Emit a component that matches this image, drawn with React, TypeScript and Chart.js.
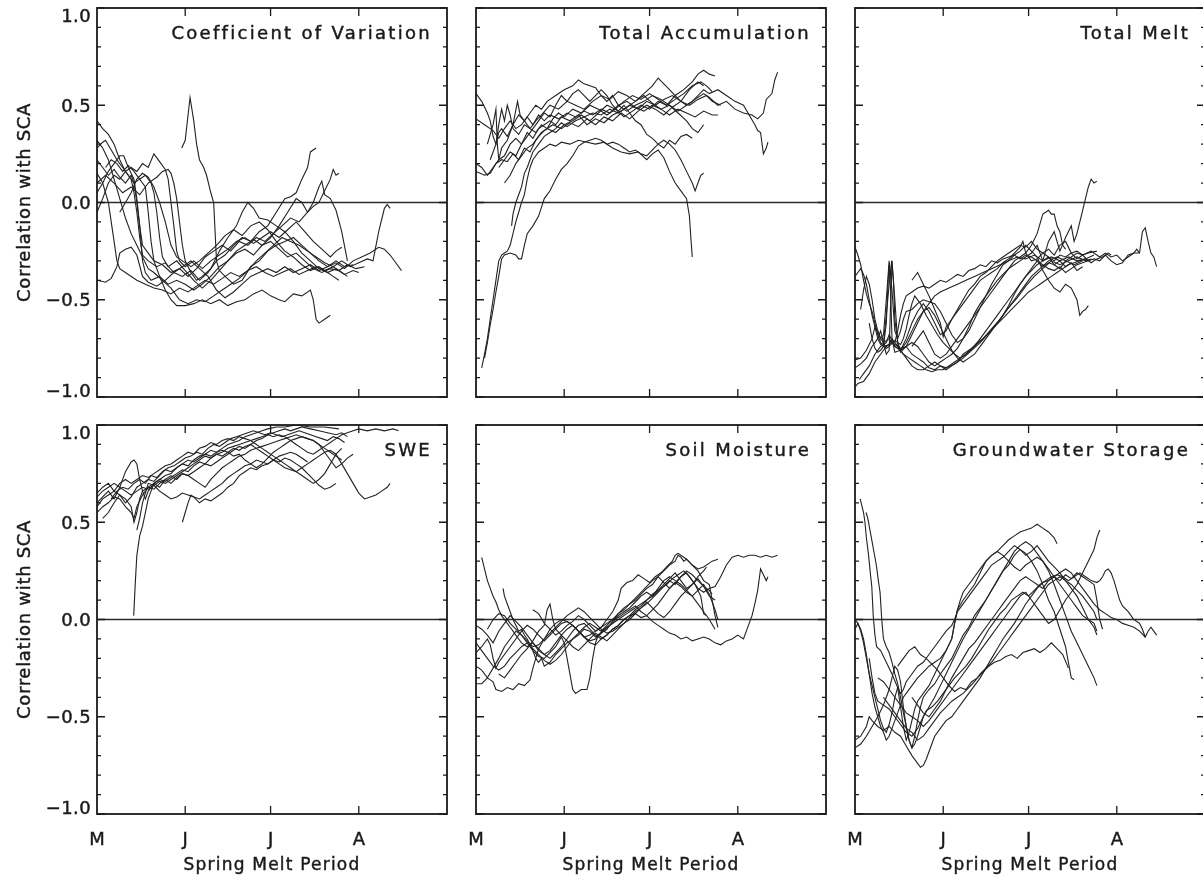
import React, { useEffect, useRef } from "react";
import { Chart, registerables } from "chart.js";
Chart.register(...registerables);

// ---------- axes / labels ----------
const monthDays = [0, 31, 61, 92];
const monthLabels = ["M", "J", "J", "A"];
const dayMax = 123;
const yMajor = [1, 0.5, 0, -0.5, -1];
const yMajorLabels = ["1.0", "0.5", "0.0", "\u22120.5", "\u22121.0"];
const yMinor = [0.9, 0.8, 0.7, 0.6, 0.4, 0.3, 0.2, 0.1, -0.1, -0.2, -0.3, -0.4, -0.6, -0.7, -0.8, -0.9];
const panelTitles = ["Coefficient of Variation", "Total Accumulation", "Total Melt", "SWE", "Soil Moisture", "Groundwater Storage"];
const yAxisTitle = "Correlation with SCA";
const xAxisTitle = "Spring Melt Period";

// ---------- Coefficient of Variation ----------
const cv01 = [[0,0.42],[2,0.38],[4,0.35],[6,0.30],[8,0.22],[10,0.16],[12,0.12],[13,0.05],[14,-0.05],[15,-0.18],[16,-0.27],[18,-0.30],[21,-0.33],[24,-0.31],[27,-0.36],[30,-0.38],[33,-0.35],[36,-0.40],[39,-0.36],[42,-0.30],[45,-0.27],[48,-0.22],[51,-0.18],[54,-0.20],[57,-0.15],[60,-0.12],[63,-0.05],[66,0.02],[68,0.03],[70,0.05],[72,0.12],[74,0.18],[75,0.26],[77,0.28]];
const cv02 = [[29.8,0.28],[31,0.32],[32.7,0.54],[34,0.42],[35,0.30],[36,0.22],[37.5,0.18],[38.5,0.14],[40,0.05],[41,0.0],[41.5,-0.15],[42,-0.30],[43,-0.35],[45,-0.38],[48,-0.42],[51,-0.40],[54,-0.33],[57,-0.30],[60,-0.25],[63,-0.22],[66,-0.20],[69,-0.18],[72,-0.22],[75,-0.26],[78,-0.30],[81,-0.33],[84,-0.30],[87,-0.33],[90,-0.32]];
const cv03 = [[0,-0.40],[3,-0.41],[5,-0.39],[7,-0.33],[8,-0.26],[10,-0.24],[12,-0.23],[14,-0.27],[16,-0.38],[18,-0.41],[21,-0.43],[24,-0.40],[27,-0.36],[30,-0.33],[33,-0.30],[36,-0.34],[39,-0.38],[42,-0.45],[45,-0.49],[48,-0.46],[51,-0.42],[54,-0.38],[57,-0.36],[60,-0.34],[63,-0.36],[66,-0.33],[69,-0.36],[72,-0.34],[75,-0.32],[78,-0.35],[81,-0.33],[84,-0.31],[87,-0.34],[90,-0.30],[93,-0.28],[96,-0.26],[99,-0.23],[101,-0.24],[103,-0.27],[105,-0.31],[107,-0.35]];
const cv04 = [[0,0.15],[2,0.10],[4,0.0],[5,-0.10],[6,-0.20],[7,-0.30],[8,-0.34],[11,-0.37],[14,-0.40],[17,-0.42],[20,-0.44],[23,-0.45],[26,-0.47],[29,-0.44],[32,-0.46],[35,-0.43],[38,-0.40],[41,-0.42],[44,-0.39],[47,-0.36],[50,-0.38],[53,-0.35],[56,-0.33],[59,-0.36],[62,-0.38],[65,-0.36],[68,-0.34],[71,-0.37],[74,-0.35],[77,-0.33],[80,-0.35],[83,-0.33],[86,-0.30],[89,-0.33],[92,-0.31],[95,-0.29],[97,-0.30],[99,-0.15],[101,-0.03],[102,-0.01],[103,-0.03]];
const cv05 = [[0,0.28],[2,0.31],[3,0.32],[5,0.27],[7,0.22],[9,0.18],[11,0.14],[13,0.10],[15,0.12],[17,0.08],[18,-0.05],[19,-0.20],[20,-0.30],[22,-0.38],[24,-0.45],[26,-0.50],[28,-0.53],[31,-0.53],[34,-0.52],[37,-0.50],[40,-0.52],[43,-0.50],[46,-0.53],[49,-0.51],[52,-0.50],[55,-0.47],[58,-0.45],[61,-0.48],[64,-0.50],[66,-0.51],[69,-0.47],[72,-0.48],[75,-0.45],[76,-0.50],[77,-0.60],[78,-0.62],[80,-0.60],[82,-0.58]];
const cv06 = [[0,0.05],[2,0.10],[4,0.16],[6,0.20],[8,0.24],[9.4,0.24],[11,0.18],[13,0.12],[14,0.02],[15,-0.12],[16,-0.22],[18,-0.26],[20,-0.30],[23,-0.32],[26,-0.36],[29,-0.34],[32,-0.38],[35,-0.34],[38,-0.28],[41,-0.25],[44,-0.22],[47,-0.25],[50,-0.20],[53,-0.22],[56,-0.18],[59,-0.20],[62,-0.16],[65,-0.12],[68,-0.08],[71,-0.10],[74,-0.05],[76,-0.02],[78,0.0],[80,0.06],[82,0.12],[83,0.17],[84,0.14],[85,0.15]];
const cv07 = [[0,-0.05],[2,0.02],[4,0.10],[6,0.14],[8,0.12],[10,0.16],[12,0.18],[14,0.16],[16,0.20],[18,0.18],[20,0.25],[22,0.21],[24,0.17],[25,0.12],[26,0.0],[27,-0.12],[28,-0.25],[29,-0.30],[31,-0.33],[34,-0.30],[37,-0.34],[40,-0.30],[43,-0.27],[46,-0.24],[49,-0.20],[52,-0.18],[55,-0.21],[58,-0.18],[61,-0.15],[64,-0.18],[67,-0.14],[70,-0.10],[73,-0.15],[76,-0.20],[79,-0.24],[82,-0.28],[84,-0.25],[86,-0.23]];
const cv08 = [[0,0.10],[3,0.14],[6,0.10],[9,0.05],[12,0.08],[15,0.04],[18,0.10],[21,0.13],[23,0.16],[25,0.17],[26,0.15],[27,0.10],[28,0.02],[29,-0.10],[30,-0.22],[31,-0.30],[33,-0.36],[35,-0.40],[37,-0.38],[40,-0.34],[43,-0.25],[46,-0.18],[49,-0.12],[51,-0.05],[53,0.0],[55,-0.03],[57,-0.08],[60,-0.09],[63,-0.12],[66,-0.15],[69,-0.20],[72,-0.26],[75,-0.30],[78,-0.34],[81,-0.36],[83,-0.38],[85,-0.40]];
const cv09 = [[0,0.22],[2,0.18],[4,0.14],[6,0.17],[8,0.13],[10,0.10],[12,0.14],[13,0.10],[14,0.0],[15,-0.12],[16,-0.30],[17,-0.36],[19,-0.40],[22,-0.38],[25,-0.42],[28,-0.40],[31,-0.42],[34,-0.45],[37,-0.42],[40,-0.38],[43,-0.33],[46,-0.30],[49,-0.26],[52,-0.24],[55,-0.27],[58,-0.22],[61,-0.20],[64,-0.24],[67,-0.28],[70,-0.26],[73,-0.30],[76,-0.34],[79,-0.36],[82,-0.34],[85,-0.35],[88,-0.32],[91,-0.34],[94,-0.33]];
const cv10 = [[3,0.18],[5,0.22],[7,0.20],[9,0.16],[11,0.19],[13,0.16],[15,0.12],[17,0.14],[19,0.10],[20,0.05],[21,-0.05],[22,-0.18],[23,-0.28],[25,-0.33],[28,-0.30],[31,-0.35],[34,-0.40],[37,-0.44],[40,-0.40],[43,-0.35],[46,-0.30],[49,-0.25],[52,-0.22],[55,-0.19],[58,-0.22],[61,-0.18],[64,-0.12],[67,-0.05],[70,0.02],[72,0.0],[74,-0.05],[76,0.0],[78,0.08],[79,0.11],[80,0.04],[82,0.02],[84,-0.04],[86,-0.15],[88,-0.30]];
const cv11 = [[8,-0.05],[10,0.0],[12,0.05],[14,0.12],[16,0.15],[18,0.13],[20,0.08],[22,0.0],[24,-0.10],[26,-0.22],[28,-0.28],[30,-0.30],[33,-0.33],[36,-0.30],[39,-0.26],[42,-0.22],[45,-0.17],[48,-0.14],[51,-0.17],[54,-0.12],[57,-0.10],[60,-0.14],[63,-0.20],[66,-0.25],[69,-0.28],[72,-0.32],[75,-0.35],[78,-0.33],[81,-0.36],[84,-0.34],[87,-0.37],[90,-0.35],[92,-0.36]];
const cv12 = [[0,0.32],[2,0.28],[4,0.22],[6,0.12],[8,0.02],[10,-0.08],[12,-0.16],[14,-0.22],[16,-0.28],[18,-0.34],[20,-0.36],[23,-0.40],[26,-0.44],[29,-0.50],[32,-0.52],[35,-0.50],[38,-0.51],[41,-0.48],[44,-0.45],[47,-0.42],[50,-0.39],[53,-0.35],[56,-0.30],[59,-0.26],[62,-0.22],[65,-0.18],[68,-0.20],[71,-0.22],[74,-0.25],[77,-0.28],[80,-0.31],[83,-0.33],[86,-0.36],[88,-0.38]];
const cvSeries = [cv01, cv02, cv03, cv04, cv05, cv06, cv07, cv08, cv09, cv10, cv11, cv12];

// ---------- Total Accumulation ----------
const ta01 = [[0,0.56],[2,0.52],[4,0.46],[5,0.42],[6,0.34],[7,0.30],[8,0.36],[9,0.38],[11,0.34],[13,0.40],[15,0.45],[17,0.42],[19,0.46],[21,0.50],[23,0.48],[25,0.52],[28,0.55],[31,0.58],[34,0.60],[36,0.63],[38,0.61],[40,0.60],[42,0.59],[44,0.55],[46,0.52],[48,0.55],[50,0.50],[53,0.47],[56,0.50],[59,0.52],[62,0.55],[65,0.53],[68,0.50],[71,0.47],[74,0.50],[77,0.53],[80,0.56],[82,0.54],[85,0.50],[88,0.52],[91,0.48],[94,0.46],[97,0.45],[99,0.43],[101,0.46],[102,0.53],[104,0.56],[105,0.63],[106,0.67]];
const ta02 = [[0,0.43],[3,0.40],[6,0.37],[8,0.33],[10,0.38],[12,0.42],[14,0.38],[16,0.40],[18,0.44],[20,0.40],[22,0.45],[24,0.42],[26,0.45],[29,0.43],[32,0.46],[35,0.44],[38,0.47],[41,0.45],[44,0.48],[47,0.46],[50,0.50],[53,0.52],[56,0.49],[59,0.47],[62,0.50],[65,0.48],[68,0.45],[71,0.48],[74,0.46],[77,0.44],[80,0.47],[83,0.45],[85,0.45]];
const ta03 = [[0,0.20],[2,0.18],[4,0.14],[6,0.18],[8,0.22],[10,0.24],[12,0.30],[14,0.33],[16,0.30],[18,0.36],[20,0.33],[22,0.38],[24,0.40],[26,0.42],[28,0.40],[30,0.44],[33,0.42],[36,0.45],[39,0.40],[42,0.43],[45,0.41],[48,0.45],[51,0.47],[54,0.50],[57,0.48],[60,0.52],[63,0.50],[66,0.53],[69,0.55],[72,0.52],[75,0.58],[78,0.62],[80,0.60]];
const ta04 = [[0,0.16],[3,0.14],[5,0.15],[7,0.20],[9,0.22],[11,0.21],[13,0.25],[15,0.22],[17,0.28],[19,0.26],[21,0.32],[23,0.36],[25,0.38],[27,0.43],[29,0.46],[31,0.44],[34,0.48],[37,0.46],[40,0.50],[43,0.48],[46,0.45],[49,0.48],[52,0.44],[55,0.47],[58,0.50],[61,0.48],[64,0.52],[67,0.50],[70,0.55],[73,0.58],[76,0.62],[78,0.66],[80,0.68],[82,0.66],[84,0.65]];
const ta05 = [[2,-0.85],[3,-0.78],[4,-0.70],[5,-0.60],[6,-0.50],[7,-0.40],[8,-0.30],[9,-0.27],[10,-0.26],[11,-0.25],[12,-0.22],[13,-0.16],[14,-0.10],[15,-0.05],[16,0.0],[17,0.04],[18,0.12],[19,0.18],[20,0.22],[22,0.26],[24,0.28],[26,0.30],[28,0.29],[30,0.31],[33,0.30],[36,0.32],[39,0.31],[42,0.30],[45,0.31],[48,0.28],[51,0.26],[54,0.25],[57,0.26],[60,0.22],[62,0.25],[64,0.27],[66,0.23],[68,0.16],[70,0.10],[72,0.06],[74,0.02],[75,-0.07],[75.5,-0.18],[76,-0.28]];
const ta06 = [[3,-0.80],[4,-0.72],[5,-0.63],[6,-0.55],[7,-0.46],[8,-0.38],[9,-0.29],[10,-0.27],[12,-0.26],[14,-0.27],[15,-0.29],[16,-0.29],[17,-0.22],[18,-0.16],[20,-0.12],[22,-0.07],[24,0.02],[26,0.06],[28,0.12],[30,0.17],[32,0.20],[34,0.24],[36,0.29],[38,0.31],[40,0.32],[42,0.33],[44,0.32],[46,0.30],[48,0.31],[50,0.30],[52,0.28],[54,0.26],[56,0.27],[58,0.25],[60,0.24],[62,0.27],[64,0.30],[66,0.32],[68,0.30],[70,0.27],[72,0.22],[74,0.16],[76,0.10],[77,0.06],[78,0.10],[79,0.14],[80,0.15]];
const ta07 = [[12.5,-0.12],[13,-0.06],[14,0.0],[15,0.04],[16,0.08],[17,0.15],[18,0.18],[19,0.22],[20,0.26],[22,0.30],[24,0.34],[26,0.36],[28,0.38],[30,0.41],[32,0.39],[35,0.42],[38,0.44],[41,0.46],[44,0.45],[47,0.48],[50,0.46],[53,0.49],[56,0.52],[59,0.56],[62,0.60],[64,0.64],[66,0.61],[68,0.58],[70,0.55],[72,0.52],[74,0.50],[76,0.52],[78,0.55],[80,0.58],[82,0.56],[85,0.58],[88,0.55],[91,0.52],[94,0.50],[96,0.45],[98,0.40],[99,0.37],[100,0.36],[101,0.25],[102,0.28],[102.6,0.31]];
const ta08 = [[8,0.18],[10,0.22],[12,0.26],[14,0.24],[16,0.30],[18,0.34],[20,0.38],[22,0.42],[24,0.46],[26,0.44],[28,0.50],[30,0.55],[32,0.52],[34,0.56],[36,0.58],[38,0.55],[40,0.52],[42,0.55],[44,0.58],[46,0.55],[48,0.50],[50,0.47],[52,0.50],[54,0.46],[56,0.42],[58,0.40],[60,0.35],[62,0.33],[64,0.30],[66,0.28],[68,0.32],[70,0.30],[72,0.34],[74,0.35],[76,0.33]];
const ta09 = [[5,0.22],[7,0.30],[8,0.40],[9,0.48],[10,0.42],[11,0.50],[12,0.45],[13,0.38],[15,0.35],[17,0.40],[19,0.38],[21,0.42],[23,0.45],[26,0.50],[29,0.48],[32,0.52],[35,0.50],[38,0.48],[41,0.52],[44,0.55],[47,0.53],[50,0.57],[53,0.55],[56,0.52],[59,0.55],[62,0.51],[65,0.48],[68,0.50],[71,0.46],[74,0.42],[76,0.38],[78,0.36],[80,0.40]];
const ta10 = [[4,0.30],[6,0.40],[7,0.48],[7.5,0.30],[8,0.22],[9,0.28],[11,0.32],[13,0.40],[14.6,0.52],[15.5,0.45],[17,0.42],[19,0.38],[21,0.36],[23,0.40],[25,0.38],[28,0.36],[31,0.40],[34,0.42],[37,0.45],[40,0.42],[43,0.46],[46,0.50],[49,0.48],[52,0.52],[55,0.55],[58,0.53],[61,0.56],[64,0.53],[67,0.50],[70,0.53],[73,0.56],[76,0.60],[79,0.62],[81,0.60],[83,0.57]];
const ta11 = [[10,0.10],[12,0.14],[14,0.20],[16,0.24],[18,0.28],[20,0.30],[22,0.34],[24,0.37],[27,0.40],[30,0.38],[33,0.41],[36,0.39],[39,0.43],[42,0.40],[45,0.44],[48,0.42],[51,0.46],[54,0.43],[57,0.47],[60,0.50],[63,0.48],[66,0.45],[69,0.49],[72,0.52],[75,0.50],[78,0.53],[81,0.55],[83,0.52],[86,0.50]];
const taSeries = [ta01, ta02, ta03, ta04, ta05, ta06, ta07, ta08, ta09, ta10, ta11];

// ---------- Total Melt ----------
const tm01 = [[0,-0.23],[1,-0.27],[2,-0.32],[3,-0.40],[4,-0.47],[5,-0.52],[6,-0.56],[7,-0.62],[8,-0.68],[9,-0.72],[10,-0.74],[12,-0.73],[13,-0.70],[14,-0.72],[16,-0.75],[18,-0.74],[20,-0.68],[22,-0.62],[24,-0.56],[26,-0.52],[28,-0.48],[30,-0.46],[33,-0.44],[36,-0.42],[39,-0.40],[42,-0.38],[45,-0.36],[48,-0.34],[51,-0.32],[54,-0.30],[57,-0.28],[60,-0.29],[63,-0.27],[66,-0.30],[69,-0.28],[72,-0.30],[75,-0.28],[78,-0.30],[81,-0.29],[84,-0.27]];
const tm02 = [[0,-0.38],[1,-0.36],[2,-0.34],[3,-0.37],[4,-0.42],[5,-0.50],[6,-0.58],[7,-0.64],[8,-0.70],[9,-0.73],[10,-0.72],[11,-0.58],[12,-0.42],[12.9,-0.30],[13.5,-0.40],[14,-0.60],[15,-0.72],[16,-0.76],[18,-0.74],[20,-0.78],[22,-0.80],[24,-0.82],[26,-0.85],[28,-0.86],[30,-0.84],[32,-0.85],[35,-0.83],[38,-0.80],[41,-0.76],[44,-0.72],[47,-0.67],[50,-0.62],[53,-0.56],[56,-0.50],[59,-0.44],[62,-0.38],[65,-0.34],[68,-0.30],[71,-0.28],[74,-0.30],[77,-0.32],[80,-0.30]];
const tm03 = [[0,-0.81],[2,-0.80],[4,-0.76],[6,-0.70],[7,-0.64],[8,-0.66],[9,-0.70],[10,-0.72],[11,-0.75],[12,-0.74],[14,-0.71],[16,-0.73],[17,-0.70],[18,-0.65],[19,-0.58],[20,-0.52],[21,-0.48],[23,-0.52],[25,-0.58],[27,-0.63],[29,-0.68],[31,-0.72],[33,-0.75],[35,-0.78],[37,-0.80],[39,-0.78],[42,-0.74],[45,-0.70],[48,-0.65],[51,-0.60],[54,-0.54],[57,-0.49],[60,-0.43],[63,-0.38],[66,-0.34],[69,-0.30],[72,-0.32],[75,-0.30],[78,-0.28],[81,-0.30],[83,-0.29]];
const tm04 = [[0,-0.85],[2,-0.83],[4,-0.80],[6,-0.74],[8,-0.70],[9,-0.66],[10,-0.72],[11,-0.78],[12,-0.76],[13,-0.30],[14,-0.50],[15,-0.72],[16,-0.77],[18,-0.74],[20,-0.72],[22,-0.74],[24,-0.78],[26,-0.82],[28,-0.84],[30,-0.82],[32,-0.80],[34,-0.78],[36,-0.75],[38,-0.70],[40,-0.64],[42,-0.57],[44,-0.52],[46,-0.48],[48,-0.44],[50,-0.40],[52,-0.37],[54,-0.34],[56,-0.32],[58,-0.30],[60,-0.28],[62,-0.26],[64,-0.22],[66,-0.30],[68,-0.20],[70,-0.15],[72,-0.25],[74,-0.18],[76,-0.12],[77,-0.20],[78,-0.16],[80,-0.04],[81,0.02],[82,0.08],[83,0.12],[84,0.10],[85,0.11]];
const tm05 = [[1.5,-0.91],[3,-0.88],[5,-0.84],[7,-0.78],[9,-0.74],[11,-0.72],[12,-0.68],[14,-0.74],[16,-0.76],[18,-0.72],[20,-0.66],[22,-0.60],[24,-0.56],[26,-0.54],[28,-0.58],[30,-0.64],[32,-0.70],[34,-0.76],[36,-0.80],[38,-0.82],[40,-0.80],[42,-0.78],[44,-0.74],[46,-0.70],[48,-0.66],[50,-0.62],[52,-0.58],[54,-0.53],[56,-0.47],[58,-0.42],[60,-0.38],[62,-0.34],[64,-0.30],[66,-0.33],[68,-0.31],[70,-0.32],[72,-0.30],[74,-0.33],[76,-0.31],[78,-0.35],[80,-0.33]];
const tm06 = [[14,-0.72],[15,-0.66],[16,-0.58],[17,-0.52],[18,-0.48],[20,-0.46],[22,-0.44],[24,-0.43],[26,-0.44],[28,-0.42],[30,-0.40],[32,-0.41],[34,-0.39],[36,-0.37],[38,-0.38],[40,-0.35],[42,-0.34],[44,-0.32],[46,-0.33],[48,-0.30],[50,-0.31],[52,-0.29],[54,-0.28],[56,-0.27],[58,-0.29],[60,-0.27],[62,-0.28],[64,-0.30],[66,-0.32],[68,-0.34],[70,-0.35],[72,-0.33],[74,-0.36],[76,-0.34],[78,-0.32],[80,-0.31],[82,-0.30],[84,-0.29],[86,-0.30],[88,-0.27],[90,-0.30],[92,-0.32],[94,-0.31],[96,-0.27],[98,-0.26],[100,-0.26],[101,-0.15],[102,-0.13],[103,-0.20],[104,-0.26],[105,-0.28],[106,-0.33]];
const tm07 = [[10,-0.72],[12,-0.70],[14,-0.74],[16,-0.76],[18,-0.70],[20,-0.62],[22,-0.56],[24,-0.52],[26,-0.56],[28,-0.62],[30,-0.68],[32,-0.66],[34,-0.60],[36,-0.55],[38,-0.50],[40,-0.45],[42,-0.42],[44,-0.38],[46,-0.36],[48,-0.33],[50,-0.30],[52,-0.28],[54,-0.26],[56,-0.24],[58,-0.22],[60,-0.23],[62,-0.20],[64,-0.24],[66,-0.26],[68,-0.28],[70,-0.30],[72,-0.27],[74,-0.28],[76,-0.26],[78,-0.25],[80,-0.27],[82,-0.26],[85,-0.25]];
const tm08 = [[5,-0.62],[6,-0.70],[7,-0.75],[8,-0.77],[9,-0.76],[10,-0.74],[11,-0.62],[11.5,-0.45],[12,-0.32],[12.5,-0.45],[13,-0.70],[14,-0.77],[16,-0.76],[18,-0.80],[20,-0.84],[22,-0.86],[24,-0.86],[26,-0.84],[28,-0.82],[30,-0.84],[32,-0.86],[34,-0.84],[36,-0.82],[38,-0.78],[40,-0.76],[42,-0.74],[44,-0.70],[46,-0.66],[48,-0.62],[50,-0.58],[52,-0.54],[54,-0.50],[56,-0.46],[58,-0.42],[60,-0.38],[62,-0.35],[64,-0.32],[66,-0.30],[68,-0.28],[70,-0.32],[72,-0.34],[74,-0.30],[76,-0.28],[78,-0.26],[80,-0.27],[82,-0.30]];
const tm09 = [[20,-0.74],[22,-0.70],[24,-0.66],[26,-0.72],[28,-0.78],[30,-0.80],[32,-0.78],[34,-0.74],[36,-0.70],[38,-0.66],[40,-0.62],[42,-0.58],[44,-0.54],[46,-0.50],[48,-0.46],[50,-0.42],[52,-0.38],[54,-0.34],[56,-0.30],[58,-0.28],[60,-0.26],[62,-0.22],[64,-0.16],[66,-0.06],[67,-0.05],[68,-0.04],[69,-0.06],[70,-0.06],[71,-0.12],[72,-0.15],[73,-0.22],[74,-0.24]];
const tm10 = [[0,-0.95],[1,-0.93],[3,-0.92],[5,-0.88],[7,-0.82],[9,-0.78],[11,-0.74],[13,-0.72],[15,-0.74],[17,-0.78],[19,-0.80],[21,-0.82],[23,-0.84],[25,-0.86],[27,-0.87],[29,-0.86],[31,-0.86],[33,-0.84],[35,-0.82],[37,-0.80],[39,-0.78],[41,-0.75],[43,-0.72],[45,-0.70],[47,-0.67],[49,-0.64],[51,-0.61],[53,-0.58],[55,-0.55],[57,-0.52],[59,-0.49],[61,-0.46],[63,-0.44],[65,-0.42],[67,-0.40],[69,-0.38],[71,-0.36],[73,-0.34],[75,-0.32],[77,-0.31],[79,-0.30],[81,-0.29],[83,-0.31],[85,-0.29],[87,-0.28],[89,-0.26],[90,-0.27]];
const tm11 = [[2,-0.55],[3,-0.45],[4,-0.38],[5,-0.42],[6,-0.50],[7,-0.60],[8,-0.66],[9,-0.70],[10,-0.68],[11,-0.50],[12,-0.30],[13,-0.45],[14,-0.66],[15,-0.70],[16,-0.66],[17,-0.60],[18,-0.56],[20,-0.55],[22,-0.52],[24,-0.50],[26,-0.51],[28,-0.52],[30,-0.56],[32,-0.62],[34,-0.68],[36,-0.72],[38,-0.70],[40,-0.66],[42,-0.60],[44,-0.54],[46,-0.48],[48,-0.42],[50,-0.37],[52,-0.32],[54,-0.30],[56,-0.27],[58,-0.25],[60,-0.22],[62,-0.25],[64,-0.28],[66,-0.35],[68,-0.40],[70,-0.44],[72,-0.46],[74,-0.42],[76,-0.44],[78,-0.50],[79,-0.58],[80,-0.56],[81,-0.55],[82,-0.53]];
const tm12 = [[20,-0.40],[22,-0.36],[24,-0.42],[26,-0.48],[28,-0.55],[30,-0.62],[31,-0.69],[32,-0.64],[34,-0.60],[36,-0.56],[38,-0.52],[40,-0.48],[42,-0.44],[44,-0.40],[46,-0.38],[48,-0.36],[50,-0.34],[52,-0.31],[54,-0.29],[56,-0.26],[58,-0.23],[59,-0.20],[60,-0.26],[62,-0.30],[64,-0.29],[66,-0.26],[68,-0.24],[70,-0.27],[72,-0.22],[74,-0.20],[76,-0.26],[78,-0.29],[80,-0.27],[83,-0.25],[86,-0.28],[88,-0.26],[90,-0.28],[92,-0.27],[94,-0.30],[96,-0.28],[98,-0.26],[99,-0.24],[100,-0.26]];
const tmSeries = [tm01, tm02, tm03, tm04, tm05, tm06, tm07, tm08, tm09, tm10, tm11, tm12];

// ---------- SWE ----------
const sw01 = [[0,0.60],[2,0.63],[4,0.66],[6,0.62],[8,0.68],[10,0.76],[12,0.81],[13,0.82],[14,0.80],[15,0.72],[16,0.66],[17,0.62],[18,0.66],[20,0.70],[22,0.72],[24,0.74],[26,0.75],[28,0.78],[30,0.80],[32,0.79],[34,0.82],[36,0.84],[38,0.85],[40,0.87],[42,0.86],[44,0.88],[46,0.90],[48,0.91],[50,0.92],[52,0.94],[54,0.95],[56,0.96],[58,0.97],[60,0.98],[63,0.99],[66,0.99],[70,1.0],[75,0.99],[80,0.99],[85,0.98]];
const sw02 = [[12.9,0.02],[13.5,0.20],[14,0.33],[15,0.43],[16,0.48],[17,0.55],[18,0.62],[19,0.66],[20,0.70],[22,0.72],[24,0.71],[26,0.73],[28,0.75],[30,0.77],[32,0.76],[34,0.79],[36,0.81],[38,0.80],[40,0.83],[42,0.85],[44,0.84],[46,0.86],[48,0.88],[50,0.87],[52,0.89],[54,0.90],[56,0.88],[58,0.86],[60,0.84],[62,0.82],[64,0.80],[66,0.78],[68,0.77],[70,0.76],[72,0.78],[74,0.80],[76,0.82],[78,0.84],[80,0.86],[82,0.87],[84,0.85],[86,0.80],[88,0.75],[90,0.70],[92,0.65],[94,0.62],[96,0.63],[98,0.64],[100,0.66],[102,0.68],[103,0.70]];
const sw03 = [[30,0.50],[31,0.55],[32,0.60],[33,0.64],[34,0.63],[36,0.60],[38,0.62],[40,0.61],[42,0.63],[44,0.65],[46,0.68],[48,0.70],[50,0.74],[52,0.76],[54,0.78],[56,0.77],[58,0.79],[60,0.80],[62,0.82],[64,0.81],[66,0.83],[68,0.82],[70,0.80],[72,0.78],[74,0.75],[76,0.72],[78,0.69],[80,0.67],[82,0.68],[84,0.70]];
const sw04 = [[0,0.55],[2,0.58],[4,0.60],[6,0.63],[8,0.62],[10,0.58],[12,0.55],[13,0.52],[14,0.58],[16,0.64],[18,0.68],[20,0.67],[22,0.70],[24,0.72],[26,0.70],[28,0.73],[30,0.75],[32,0.74],[34,0.76],[36,0.78],[38,0.80],[40,0.79],[42,0.81],[44,0.83],[46,0.85],[48,0.87],[50,0.89],[52,0.88],[54,0.90],[56,0.92],[58,0.93],[60,0.95],[62,0.94],[64,0.95],[66,0.94],[68,0.92],[70,0.90],[72,0.88],[74,0.86],[76,0.85],[78,0.87],[80,0.89],[82,0.91],[84,0.93],[86,0.95],[88,0.96],[90,0.97],[92,0.98],[95,0.97],[98,0.98],[101,0.97],[104,0.98],[106,0.97]];
const sw05 = [[0,0.65],[2,0.68],[4,0.70],[6,0.66],[8,0.64],[10,0.60],[12,0.63],[14,0.68],[16,0.70],[18,0.72],[20,0.71],[22,0.74],[24,0.77],[26,0.76],[28,0.78],[30,0.80],[32,0.82],[34,0.81],[36,0.83],[38,0.85],[40,0.84],[42,0.86],[44,0.87],[46,0.86],[48,0.84],[50,0.85],[52,0.82],[54,0.80],[56,0.78],[58,0.80],[60,0.83],[62,0.86],[64,0.88],[66,0.90],[68,0.92],[70,0.93],[72,0.94],[74,0.93],[76,0.92],[78,0.90],[80,0.86],[82,0.82],[84,0.78],[86,0.80],[88,0.83],[90,0.85]];
const sw06 = [[0,0.58],[2,0.62],[4,0.64],[6,0.66],[8,0.70],[10,0.72],[12,0.70],[14,0.72],[16,0.74],[18,0.73],[20,0.75],[22,0.77],[24,0.79],[26,0.80],[28,0.82],[30,0.84],[32,0.86],[34,0.85],[36,0.88],[38,0.89],[40,0.91],[42,0.90],[44,0.92],[46,0.93],[48,0.92],[50,0.94],[52,0.93],[54,0.92],[56,0.90],[58,0.88],[60,0.86],[62,0.84],[64,0.82],[66,0.80],[68,0.78],[70,0.76],[72,0.74],[74,0.72],[76,0.70],[78,0.72],[80,0.75],[82,0.80],[84,0.85],[86,0.88]];
const sw07 = [[2,0.52],[4,0.55],[6,0.60],[8,0.64],[10,0.62],[12,0.58],[13,0.50],[14,0.55],[15,0.62],[16,0.66],[18,0.68],[20,0.70],[22,0.68],[24,0.72],[26,0.74],[28,0.72],[30,0.75],[32,0.74],[34,0.72],[36,0.70],[38,0.68],[40,0.72],[42,0.75],[44,0.78],[46,0.80],[48,0.82],[50,0.84],[52,0.85],[54,0.87],[56,0.88],[58,0.89],[60,0.90],[62,0.91],[64,0.92],[66,0.93],[68,0.94],[70,0.95],[72,0.94],[74,0.93],[76,0.92],[78,0.90],[80,0.88],[82,0.86],[84,0.84],[86,0.82]];
const sw08 = [[5,0.62],[7,0.66],[9,0.68],[11,0.67],[13,0.70],[15,0.72],[17,0.70],[19,0.74],[21,0.73],[23,0.76],[25,0.78],[27,0.79],[29,0.81],[31,0.83],[33,0.84],[35,0.86],[37,0.85],[39,0.88],[41,0.90],[43,0.89],[45,0.91],[47,0.93],[49,0.94],[51,0.95],[53,0.96],[55,0.97],[57,0.96],[59,0.95],[61,0.96],[63,0.95],[65,0.94],[67,0.95],[69,0.96],[71,0.97],[73,0.96],[75,0.95],[77,0.94],[79,0.93],[81,0.92],[83,0.94],[85,0.93],[87,0.91]];
const sw09 = [[14,0.46],[15,0.52],[16,0.60],[17,0.65],[18,0.70],[20,0.69],[22,0.66],[24,0.64],[26,0.62],[28,0.63],[30,0.65],[32,0.64],[34,0.63],[36,0.62],[38,0.64],[40,0.66],[42,0.68],[44,0.70],[46,0.73],[48,0.75],[50,0.77],[52,0.79],[54,0.80],[56,0.82],[58,0.81],[60,0.80],[62,0.82],[64,0.84],[66,0.85],[68,0.86],[70,0.85],[72,0.83],[74,0.81]];
const sw10 = [[0,0.63],[2,0.66],[4,0.68],[6,0.70],[8,0.68],[10,0.66],[12,0.64],[14,0.66],[16,0.68],[18,0.67],[20,0.69],[22,0.71],[24,0.70],[26,0.72],[28,0.74],[30,0.76],[32,0.78],[34,0.80],[36,0.82],[38,0.84],[40,0.83],[42,0.85],[44,0.86],[46,0.88],[48,0.89],[50,0.90],[52,0.91],[54,0.92],[56,0.93],[58,0.94],[60,0.95],[62,0.96],[64,0.97],[66,0.98],[68,0.97],[70,0.98],[72,0.99],[75,0.98],[78,0.97],[81,0.96],[84,0.95],[86,0.96],[88,0.94]];
const swSeries = [sw01, sw02, sw03, sw04, sw05, sw06, sw07, sw08, sw09, sw10];

// ---------- Soil Moisture ----------
const sm01 = [[2,0.32],[3,0.26],[4,0.20],[5,0.16],[6,0.12],[7,0.09],[8,0.05],[9,0.02],[10,0.0],[11,-0.02],[12,-0.04],[13,-0.06],[14,-0.08],[15,-0.10],[16,-0.12],[18,-0.14],[20,-0.12],[22,-0.15],[24,-0.18],[26,-0.16],[28,-0.12],[30,-0.08],[32,-0.05],[34,-0.03],[36,-0.06],[38,-0.09],[40,-0.08],[42,-0.06],[44,-0.04],[46,-0.02],[48,0.0],[50,0.03],[52,0.05],[54,0.08],[56,0.10],[58,0.13],[60,0.16],[62,0.18],[64,0.22],[66,0.25],[68,0.28],[70,0.30],[71,0.33],[72,0.32],[73,0.30],[74,0.31],[76,0.28],[78,0.26],[80,0.27],[82,0.29],[83,0.30],[85,0.31]];
const sm02 = [[9.5,0.16],[10,0.12],[11,0.08],[12,0.04],[13,0.0],[14,-0.03],[15,-0.06],[16,-0.05],[17,-0.08],[18,-0.10],[19,-0.13],[20,-0.16],[21,-0.20],[22,-0.22],[23,-0.20],[24,-0.24],[26,-0.22],[28,-0.18],[30,-0.15],[32,-0.12],[34,-0.10],[36,-0.08],[38,-0.05],[40,-0.06],[42,-0.09],[44,-0.07],[46,-0.04],[48,-0.02],[50,0.02],[52,0.04],[54,0.06],[56,0.09],[58,0.12],[60,0.14],[62,0.12],[64,0.16],[66,0.20],[68,0.22],[70,0.20],[72,0.18],[74,0.15],[76,0.12],[78,0.08],[80,0.04],[82,0.0],[84,-0.05]];
const sm03 = [[0,-0.03],[2,-0.05],[4,-0.08],[6,-0.12],[8,-0.06],[10,-0.02],[12,0.02],[14,-0.01],[16,-0.04],[18,-0.08],[20,-0.12],[22,-0.16],[24,-0.18],[26,-0.20],[28,-0.17],[30,-0.14],[32,-0.10],[34,-0.06],[36,-0.03],[38,-0.02],[40,-0.05],[42,-0.08],[44,-0.10],[46,-0.08],[48,-0.05],[50,-0.03],[52,0.0],[54,0.02],[56,0.03],[58,0.01],[60,0.02],[62,-0.01],[64,-0.03],[66,-0.05],[68,-0.07],[70,-0.08],[72,-0.10],[74,-0.09],[76,-0.11],[78,-0.10],[80,-0.09],[82,-0.10],[84,-0.12],[86,-0.13],[88,-0.11],[90,-0.10],[92,-0.08],[94,-0.10],[95,-0.06],[96,-0.02],[97,0.02],[98,0.08],[99,0.15],[100,0.26],[101,0.23],[102,0.20],[102.6,0.22]];
const sm04 = [[0,-0.17],[2,-0.14],[4,-0.10],[5,-0.13],[6,-0.20],[7,-0.25],[8,-0.22],[10,-0.18],[12,-0.14],[14,-0.10],[16,-0.06],[18,-0.03],[20,-0.05],[22,-0.08],[24,-0.11],[26,-0.08],[28,-0.05],[30,-0.02],[32,-0.01],[34,-0.03],[36,-0.06],[38,-0.09],[40,-0.11],[42,-0.10],[44,-0.07],[46,-0.05],[48,-0.01],[50,0.03],[52,0.06],[54,0.08],[56,0.11],[58,0.14],[60,0.17],[62,0.20],[64,0.22],[66,0.19],[68,0.16],[70,0.19],[72,0.22],[74,0.24],[76,0.20],[78,0.16],[80,0.14],[82,0.16],[84,0.17],[86,0.22],[88,0.28],[90,0.32],[92,0.33],[94,0.32],[96,0.33],[98,0.33],[100,0.32],[102,0.33],[104,0.32],[106,0.33]];
const sm05 = [[0,-0.24],[2,-0.26],[4,-0.30],[6,-0.25],[8,-0.20],[10,-0.14],[12,-0.10],[14,-0.06],[16,-0.08],[18,-0.12],[20,-0.16],[22,-0.19],[24,-0.20],[26,-0.17],[28,-0.14],[30,-0.09],[31,-0.12],[32,-0.20],[33,-0.28],[34,-0.36],[35,-0.38],[37,-0.36],[39,-0.36],[40,-0.30],[41,-0.20],[42,-0.12],[43,-0.08],[45,-0.05],[47,-0.03],[49,-0.01],[51,0.01],[53,0.03],[55,0.05],[57,0.07],[59,0.09],[61,0.11],[63,0.13],[65,0.16],[67,0.18],[69,0.21],[71,0.23],[73,0.25],[75,0.22],[77,0.18],[79,0.12],[80,0.03],[81,0.02]];
const sm06 = [[0,-0.33],[2,-0.33],[4,-0.30],[6,-0.32],[7,-0.36],[9,-0.37],[11,-0.35],[13,-0.36],[15,-0.33],[17,-0.34],[19,-0.31],[20,-0.25],[21,-0.20],[22,-0.15],[24,-0.10],[26,-0.05],[28,-0.02],[30,0.0],[32,-0.01],[34,-0.03],[36,-0.06],[38,-0.09],[40,-0.12],[42,-0.13],[44,-0.10],[46,-0.08],[48,-0.05],[50,-0.03],[52,0.0],[54,0.02],[56,0.05],[58,0.07],[60,0.10],[62,0.13],[64,0.15],[66,0.18],[68,0.21],[70,0.24],[72,0.20],[74,0.16],[76,0.18],[78,0.21],[80,0.17],[82,0.12],[84,0.10]];
const sm07 = [[20,0.05],[22,0.03],[24,-0.02],[26,-0.05],[28,-0.08],[30,-0.06],[32,-0.03],[34,-0.01],[36,0.02],[38,0.0],[40,-0.03],[42,-0.06],[44,-0.04],[46,0.0],[48,0.04],[49,0.07],[50,0.10],[51,0.16],[53,0.19],[55,0.20],[57,0.23],[59,0.21],[61,0.19],[63,0.22],[65,0.24],[67,0.27],[69,0.30],[70,0.33],[71,0.34],[72,0.33],[74,0.31],[76,0.28],[78,0.25],[80,0.20],[82,0.18],[83,0.10],[84,0.02],[85,-0.04]];
const sm08 = [[4,-0.05],[6,0.0],[8,0.03],[10,0.02],[12,-0.02],[14,-0.05],[16,-0.08],[18,-0.11],[20,-0.14],[22,-0.13],[24,-0.10],[26,-0.07],[28,-0.04],[30,-0.01],[32,0.02],[34,0.04],[36,0.06],[38,0.04],[40,0.01],[42,-0.02],[44,-0.05],[46,-0.07],[48,-0.06],[50,-0.04],[52,-0.02],[54,0.0],[56,0.03],[58,0.06],[60,0.08],[62,0.11],[64,0.14],[66,0.17],[68,0.20],[70,0.18],[72,0.22],[74,0.25],[76,0.23],[78,0.20],[80,0.17],[82,0.15],[83,0.13]];
const sm09 = [[8,-0.28],[10,-0.30],[12,-0.26],[14,-0.22],[16,-0.18],[18,-0.15],[20,-0.11],[22,-0.06],[24,-0.03],[25,0.05],[26,0.08],[27,0.0],[28,-0.05],[30,-0.08],[32,-0.11],[34,-0.14],[36,-0.16],[38,-0.13],[40,-0.10],[42,-0.07],[44,-0.09],[46,-0.11],[48,-0.08],[50,-0.05],[52,-0.02],[54,0.01],[56,0.04],[58,0.06],[60,0.09],[62,0.06],[64,0.03],[66,0.01],[68,0.04],[70,0.08],[72,0.12],[74,0.15],[76,0.18],[78,0.22],[80,0.25],[81,0.27]];
const sm10 = [[0,-0.12],[2,-0.16],[4,-0.20],[6,-0.24],[8,-0.26],[10,-0.24],[12,-0.20],[14,-0.17],[16,-0.14],[18,-0.12],[20,-0.15],[22,-0.18],[24,-0.21],[26,-0.23],[28,-0.21],[30,-0.18],[32,-0.14],[34,-0.10],[36,-0.07],[38,-0.04],[40,-0.02],[42,-0.04],[44,-0.06],[46,-0.03],[48,0.0],[50,0.01],[52,0.03],[54,0.05],[56,0.07],[58,0.04],[60,0.02],[62,0.05],[64,0.08],[66,0.12],[68,0.16],[70,0.19],[72,0.17],[74,0.14],[76,0.12],[78,0.15],[80,0.18],[82,0.13],[84,0.05],[85,0.0]];
const smSeries = [sm01, sm02, sm03, sm04, sm05, sm06, sm07, sm08, sm09, sm10];

// ---------- Groundwater Storage ----------
const gw01 = [[1.8,0.62],[2.5,0.58],[3,0.55],[3.5,0.50],[4,0.42],[4.7,0.34],[5.3,0.25],[5.9,0.17],[6.4,0.02],[7,-0.08],[7.6,-0.14],[9,-0.16],[11,-0.22],[13,-0.28],[15,-0.35],[16,-0.45],[17,-0.55],[18,-0.62],[19,-0.58],[20,-0.52],[21,-0.46],[22,-0.42],[24,-0.38],[26,-0.34],[28,-0.28],[30,-0.22],[32,-0.16],[34,-0.10],[35,-0.02],[36,0.05],[38,0.10],[40,0.14],[42,0.18],[44,0.24],[46,0.30],[48,0.33],[50,0.35],[52,0.38],[54,0.41],[56,0.43],[58,0.45],[60,0.46],[62,0.47],[64,0.49],[66,0.47],[68,0.45],[70,0.42],[71,0.39]];
const gw02 = [[3.9,0.55],[4.5,0.52],[5,0.48],[6,0.40],[7,0.32],[7.6,0.27],[8.2,0.20],[8.8,0.14],[9.4,0.0],[10,-0.10],[11,-0.14],[12,-0.17],[13,-0.22],[14,-0.28],[15,-0.33],[16,-0.40],[17,-0.48],[18,-0.55],[19,-0.62],[20,-0.66],[21,-0.60],[22,-0.52],[23,-0.45],[24,-0.40],[26,-0.36],[28,-0.33],[30,-0.28],[32,-0.24],[34,-0.20],[36,-0.14],[38,-0.08],[40,-0.04],[42,0.02],[44,0.06],[46,0.10],[48,0.15],[50,0.20],[52,0.25],[54,0.28],[56,0.33],[58,0.36],[60,0.34],[62,0.30],[64,0.25],[66,0.18],[68,0.10],[70,0.04],[72,-0.05],[74,-0.14],[75,-0.22],[76,-0.30],[77,-0.31]];
const gw03 = [[0,0.0],[1,-0.02],[2,-0.05],[3,-0.10],[4,-0.18],[5,-0.28],[6,-0.38],[7,-0.45],[8,-0.50],[9,-0.55],[10,-0.58],[11,-0.62],[12,-0.60],[13,-0.56],[14,-0.52],[15,-0.48],[16,-0.44],[17,-0.40],[18,-0.38],[20,-0.34],[22,-0.30],[24,-0.27],[26,-0.24],[28,-0.22],[30,-0.20],[32,-0.16],[34,-0.10],[35,-0.02],[36,0.05],[37,0.10],[38,0.14],[40,0.18],[42,0.22],[44,0.26],[46,0.30],[48,0.33],[50,0.35],[52,0.33],[54,0.30],[56,0.27],[58,0.25],[60,0.28],[62,0.30],[64,0.32],[66,0.30],[68,0.26],[70,0.22],[72,0.18],[74,0.14],[76,0.10],[78,0.06],[80,0.02],[82,0.0],[84,-0.02],[85,-0.06]];
const gw04 = [[0,-0.66],[2,-0.64],[4,-0.60],[6,-0.55],[8,-0.50],[10,-0.44],[11,-0.40],[12,-0.36],[13,-0.30],[14,-0.24],[15,-0.26],[16,-0.32],[17,-0.45],[18,-0.55],[19,-0.62],[20,-0.66],[21,-0.64],[22,-0.60],[23,-0.55],[24,-0.50],[25,-0.47],[27,-0.45],[29,-0.42],[31,-0.38],[33,-0.34],[35,-0.30],[37,-0.27],[39,-0.24],[41,-0.20],[43,-0.15],[45,-0.10],[47,-0.05],[49,-0.01],[51,0.03],[53,0.06],[55,0.10],[57,0.12],[59,0.14],[61,0.12],[63,0.15],[65,0.18],[67,0.20],[69,0.22],[71,0.23],[73,0.22],[75,0.20],[77,0.22],[79,0.24],[81,0.22],[83,0.20],[85,0.19],[86,0.20],[87,0.22],[88,0.25],[89,0.26],[90,0.24],[91,0.20],[92,0.15],[93,0.10],[94,0.07],[96,0.04],[98,0.0],[100,-0.02],[101,-0.05],[102,-0.09],[103,-0.06],[104,-0.04],[105,-0.06],[106,-0.08]];
const gw05 = [[0,-0.62],[2,-0.60],[4,-0.55],[5,-0.50],[6,-0.52],[8,-0.55],[10,-0.57],[12,-0.55],[14,-0.58],[16,-0.60],[18,-0.65],[20,-0.70],[22,-0.74],[23,-0.76],[24,-0.75],[25,-0.72],[26,-0.68],[27,-0.64],[28,-0.60],[30,-0.56],[32,-0.52],[34,-0.50],[36,-0.46],[38,-0.42],[40,-0.38],[42,-0.34],[44,-0.30],[46,-0.25],[48,-0.20],[50,-0.15],[52,-0.10],[54,-0.06],[56,-0.02],[58,0.03],[60,0.08],[62,0.12],[64,0.16],[66,0.19],[68,0.20],[70,0.22],[72,0.20],[74,0.23],[76,0.21],[78,0.24],[80,0.22],[82,0.20],[84,0.18],[85,0.10],[86,0.0],[87,-0.05]];
const gw06 = [[15,-0.24],[17,-0.20],[19,-0.16],[21,-0.14],[23,-0.18],[25,-0.20],[27,-0.23],[29,-0.26],[31,-0.30],[33,-0.34],[35,-0.37],[37,-0.35],[39,-0.36],[41,-0.32],[43,-0.30],[45,-0.27],[47,-0.24],[49,-0.22],[51,-0.21],[53,-0.19],[55,-0.18],[57,-0.20],[59,-0.17],[61,-0.16],[63,-0.15],[65,-0.17],[67,-0.15],[69,-0.12],[71,-0.15],[73,-0.18],[75,-0.25]];
const gw07 = [[8,-0.30],[10,-0.32],[12,-0.36],[14,-0.40],[16,-0.44],[18,-0.48],[20,-0.50],[22,-0.52],[24,-0.55],[26,-0.52],[28,-0.48],[30,-0.44],[32,-0.40],[34,-0.36],[36,-0.32],[38,-0.28],[40,-0.24],[42,-0.20],[44,-0.16],[46,-0.12],[48,-0.08],[50,-0.04],[52,0.0],[54,0.04],[56,0.08],[58,0.12],[60,0.14],[62,0.10],[64,0.06],[66,0.02],[68,-0.02],[70,0.0],[72,0.05],[74,0.10],[76,0.14],[78,0.18],[80,0.24],[82,0.30],[84,0.36],[85,0.42],[86,0.46]];
const gw08 = [[20,-0.40],[22,-0.44],[24,-0.48],[26,-0.50],[28,-0.46],[30,-0.42],[32,-0.36],[34,-0.30],[36,-0.25],[38,-0.20],[40,-0.15],[42,-0.12],[44,-0.08],[46,-0.04],[48,0.0],[50,0.04],[52,0.08],[54,0.12],[56,0.16],[58,0.20],[60,0.22],[62,0.20],[64,0.18],[66,0.16],[68,0.20],[70,0.22],[72,0.24],[74,0.26],[76,0.24],[78,0.20],[80,0.16],[82,0.12],[84,0.08],[86,0.05],[88,0.03],[90,0.01],[92,0.0],[94,-0.02],[96,-0.03],[98,-0.04],[100,-0.06],[102,-0.09]];
const gw09 = [[5,-0.20],[6,-0.30],[7,-0.38],[8,-0.42],[10,-0.44],[12,-0.46],[14,-0.50],[16,-0.54],[18,-0.58],[20,-0.60],[22,-0.56],[24,-0.50],[26,-0.45],[28,-0.40],[30,-0.34],[32,-0.28],[34,-0.22],[36,-0.16],[38,-0.10],[40,-0.05],[42,0.0],[44,0.05],[46,0.10],[48,0.15],[50,0.20],[52,0.25],[54,0.30],[56,0.35],[58,0.38],[60,0.40],[62,0.38],[64,0.34],[66,0.30],[68,0.25],[70,0.18],[72,0.10],[74,0.02],[76,-0.06],[78,-0.12],[80,-0.18],[82,-0.24],[84,-0.30],[85,-0.34]];
const gw10 = [[0,-0.05],[1,-0.02],[2,-0.06],[3,-0.12],[4,-0.20],[5,-0.28],[6,-0.34],[7,-0.40],[8,-0.46],[9,-0.52],[10,-0.56],[11,-0.58],[12,-0.54],[13,-0.48],[14,-0.40],[15,-0.35],[16,-0.38],[17,-0.36],[18,-0.32],[20,-0.28],[22,-0.24],[24,-0.22],[26,-0.18],[28,-0.14],[30,-0.10],[32,-0.06],[34,-0.03],[35,0.0],[36,0.04],[38,0.08],[40,0.12],[42,0.16],[44,0.20],[46,0.24],[48,0.28],[50,0.30],[52,0.32],[54,0.35],[56,0.38],[58,0.36],[60,0.33],[62,0.35],[64,0.38],[66,0.34],[68,0.30],[70,0.27],[72,0.24],[74,0.20],[76,0.16],[78,0.12],[80,0.06],[82,0.0],[84,-0.04],[85,-0.08]];
const gw11 = [[10,-0.40],[12,-0.44],[14,-0.48],[16,-0.52],[18,-0.56],[20,-0.58],[22,-0.62],[24,-0.60],[26,-0.56],[28,-0.52],[30,-0.48],[32,-0.45],[34,-0.42],[36,-0.40],[38,-0.38],[40,-0.35],[42,-0.32],[44,-0.28],[46,-0.25],[48,-0.22],[50,-0.18],[52,-0.14],[54,-0.10],[56,-0.06],[58,-0.02],[60,0.02],[62,0.06],[64,0.10],[66,0.14],[68,0.18],[70,0.20],[72,0.22],[74,0.20],[76,0.18],[78,0.15],[80,0.12],[82,0.08],[84,0.04],[85,0.0]];
const gwSeries = [gw01, gw02, gw03, gw04, gw05, gw06, gw07, gw08, gw09, gw10, gw11];

// ---------- layout ----------
const panelSeries = [cvSeries, taSeries, tmSeries, swSeries, smSeries, gwSeries];
const colLeft = [97, 476, 855];
const rowTop = [8, 425];
const plotW = 350;
const plotH = 389;
const INK = "#1a1a1a";

function drawText(ctx: any, text: string, x: number, y: number) {
  ctx.fillText(text, x, y);
  ctx.strokeText(text, x, y);
}

function Panel({ idx }: { idx: number }) {
  const ref = useRef<HTMLCanvasElement | null>(null);
  const col = idx % 3;
  const row = Math.floor(idx / 3);
  const padL = col === 0 ? 97 : 22;
  const padR = 22;
  const padT = 8;
  const padB = row === 1 ? 66 : 18;
  const cw = padL + plotW + padR;
  const ch = padT + plotH + padB;
  const left = colLeft[col] - padL;
  const top = rowTop[row] - padT;

  useEffect(() => {
    if (!ref.current) return;
    const series = panelSeries[idx];
    const decor = {
      id: "decor" + idx,
      beforeDatasetsDraw(chart: any) {
        const { ctx, chartArea } = chart;
        const ys = chart.scales.y;
        const y0 = ys.getPixelForValue(0);
        ctx.save();
        ctx.strokeStyle = "#2a2a2a";
        ctx.lineWidth = 1.4;
        ctx.beginPath();
        ctx.moveTo(chartArea.left, y0);
        ctx.lineTo(chartArea.right, y0);
        ctx.stroke();
        ctx.restore();
      },
      afterDraw(chart: any) {
        const { ctx, chartArea } = chart;
        const xs = chart.scales.x;
        const ys = chart.scales.y;
        const L = chartArea.left, R = chartArea.right, T = chartArea.top, B = chartArea.bottom;
        ctx.save();
        ctx.strokeStyle = INK;
        ctx.lineWidth = 1.3;
        ctx.beginPath();
        yMajor.forEach((v) => {
          const y = ys.getPixelForValue(v);
          ctx.moveTo(L, y); ctx.lineTo(L + 8, y);
          ctx.moveTo(R, y); ctx.lineTo(R - 8, y);
        });
        yMinor.forEach((v) => {
          const y = ys.getPixelForValue(v);
          ctx.moveTo(L, y); ctx.lineTo(L + 4, y);
          ctx.moveTo(R, y); ctx.lineTo(R - 4, y);
        });
        monthDays.forEach((d) => {
          if (d === 0) return;
          const x = xs.getPixelForValue(d);
          ctx.moveTo(x, B); ctx.lineTo(x, B - 8);
          ctx.moveTo(x, T); ctx.lineTo(x, T + 8);
        });
        ctx.stroke();
        ctx.lineWidth = 1.8;
        ctx.strokeRect(L, T, R - L, B - T);

        ctx.fillStyle = INK;
        ctx.strokeStyle = INK;
        ctx.lineWidth = 0.45;
        // panel title
        ctx.font = '18px "DejaVu Sans"';
        (ctx as any).letterSpacing = "2.3px";
        ctx.textAlign = "right";
        ctx.textBaseline = "alphabetic";
        drawText(ctx, panelTitles[idx], R - 15, T + 31);

        if (col === 0) {
          ctx.font = '18px "DejaVu Sans"';
          (ctx as any).letterSpacing = "0.4px";
          ctx.textAlign = "right";
          yMajor.forEach((v, i) => {
            const y = ys.getPixelForValue(v);
            const base = Math.min(Math.max(y + 6.5, T + 13.5), B);
            drawText(ctx, yMajorLabels[i], L - 6, base);
          });
          ctx.save();
          ctx.font = '18px "DejaVu Sans"';
          (ctx as any).letterSpacing = "0.7px";
          ctx.textAlign = "center";
          ctx.translate(30, (T + B) / 2);
          ctx.rotate(-Math.PI / 2);
          drawText(ctx, yAxisTitle, 0, 0);
          ctx.restore();
        }
        if (row === 1) {
          ctx.font = '18px "DejaVu Sans"';
          (ctx as any).letterSpacing = "0px";
          ctx.textAlign = "center";
          monthDays.forEach((d, i) => {
            const x = xs.getPixelForValue(d);
            drawText(ctx, monthLabels[i], x, B + 31);
          });
          ctx.font = '17px "DejaVu Sans"';
          (ctx as any).letterSpacing = "1.2px";
          drawText(ctx, xAxisTitle, (L + R) / 2, B + 56);
        }
        ctx.restore();
      },
    };

    const chart = new Chart(ref.current, {
      type: "line",
      data: {
        datasets: series.map((s, i) => ({
          label: "s" + i,
          data: s.map((p) => ({ x: p[0], y: p[1] })),
          borderColor: "#222222",
          borderWidth: 1.1,
          pointRadius: 0,
          tension: 0,
          fill: false,
        })),
      },
      options: {
        animation: false,
        responsive: false,
        maintainAspectRatio: false,
        devicePixelRatio: 1,
        layout: { padding: { left: padL, right: padR, top: padT, bottom: padB } },
        plugins: { legend: { display: false }, tooltip: { enabled: false }, title: { display: false } },
        scales: {
          x: { type: "linear", min: 0, max: dayMax, display: false },
          y: { type: "linear", min: -1, max: 1, display: false },
        },
        events: [],
      },
      plugins: [decor],
    } as any);
    return () => chart.destroy();
  }, [idx]);

  return (
    <canvas
      ref={ref}
      width={cw}
      height={ch}
      style={{ position: "absolute", left, top, width: cw, height: ch }}
    />
  );
}

export default function App() {
  return (
    <div style={{ position: "absolute", left: 0, top: 0, width: 1203, height: 880, overflow: "hidden", background: "#fff" }}>
      {[0, 1, 2, 3, 4, 5].map((i) => (
        <Panel key={i} idx={i} />
      ))}
    </div>
  );
}
